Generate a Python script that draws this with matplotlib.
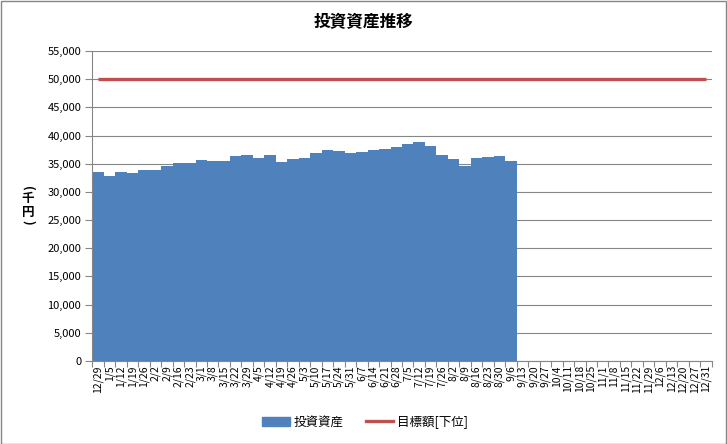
import matplotlib
matplotlib.use("Agg")
import matplotlib.pyplot as plt
from matplotlib.patches import Rectangle
from matplotlib.lines import Line2D
import numpy as np

plt.rcParams['font.family'] = ['Noto Sans CJK JP', 'DejaVu Sans']

dates = ["12/29", "1/5", "1/12", "1/19", "1/26", "2/2", "2/9", "2/16", "2/23",
         "3/1", "3/8", "3/15", "3/22", "3/29", "4/5", "4/12", "4/19", "4/26",
         "5/3", "5/10", "5/17", "5/24", "5/31", "6/7", "6/14", "6/21", "6/28",
         "7/5", "7/12", "7/19", "7/26", "8/2", "8/9", "8/16", "8/23", "8/30",
         "9/6", "9/13", "9/20", "9/27", "10/4", "10/11", "10/18", "10/25",
         "11/1", "11/8", "11/15", "11/22", "11/29", "12/6", "12/13", "12/20",
         "12/27", "12/31"]
assets = [33450, 32910, 33450, 33270, 33800, 33800, 34520, 35050, 35050,
          35590, 35410, 35410, 36300, 36480, 35950, 36480, 35230, 35770,
          35950, 36840, 37380, 37200, 36840, 37020, 37380, 37550, 37910,
          38450, 38800, 38090, 36480, 35770, 34520, 35950, 36130, 36300,
          35410]
target = [50000] * len(dates)

W, H = 727, 444
fig = plt.figure(figsize=(W / 100, H / 100), dpi=100)
fig.patch.set_facecolor("white")
fig.patches.append(Rectangle((0.5 / W, 0.5 / H), 1 - 1.5 / W, 1 - 1.5 / H,
                             transform=fig.transFigure, fill=False,
                             edgecolor="#868686", linewidth=1.0))

ax = fig.add_axes([92.3 / W, 1 - 361 / H, (711.7 - 92.3) / W, (361 - 51) / H])
x = np.arange(len(dates))
ax.bar(x[:len(assets)], assets, width=1.0, color="#4F81BD", linewidth=0,
       zorder=2, label="投資資産")
ax.plot(x, target, color="#C0504D", linewidth=2.4, zorder=3,
        solid_capstyle="butt", label="目標額[下位]")

ax.set_xlim(-0.5, len(dates) - 0.5)
ax.set_ylim(0, 55000)
ax.set_yticks(np.arange(0, 55001, 5000))
ax.set_yticklabels([f"{v:,}" for v in range(0, 55001, 5000)], fontsize=8)
ax.set_xticks(x)
ax.set_xticklabels(dates, rotation=90, fontsize=7.5, va="top")
ax.set_xticks(np.arange(-0.5, len(dates), 1.0), minor=True)
ax.tick_params(axis="x", which="major", length=0, pad=3)
ax.tick_params(axis="x", which="minor", length=4, color="#868686", width=0.8)
ax.tick_params(axis="y", length=5, color="#868686", width=0.8, pad=3)
ax.grid(axis="y", color="#868686", linewidth=0.8, zorder=0)
ax.set_axisbelow(True)
for s in ["top", "right"]:
    ax.spines[s].set_visible(False)
for s in ["left", "bottom"]:
    ax.spines[s].set_color("#868686")
    ax.spines[s].set_linewidth(0.8)

fig.text(363 / W, 1 - 22 / H, "投資資産推移", ha="center", va="center",
         fontsize=12, fontweight="bold")
# vertical y-axis label (千円)
ylab_chars = ["(", "千", "円", ")"]
ylab_rot = [-90, 0, 0, -90]
ylab_y = [188, 198, 212, 222]
for ch, rot, yy in zip(ylab_chars, ylab_rot, ylab_y):
    fig.text(28 / W, 1 - yy / H, ch, ha="center", va="center", rotation=rot,
             fontsize=9, fontweight="bold")

handles = [Rectangle((0, 0), 1, 1, color="#4F81BD"),
           Line2D([0], [0], color="#C0504D", linewidth=2.4)]
fig.legend(handles, ["投資資産", "目標額[下位]"], loc="center",
           bbox_to_anchor=(365 / W, 1 - 422 / H), ncol=2, frameon=False,
           fontsize=9, handlelength=2.2, handletextpad=0.3, columnspacing=1.8)

fig.savefig("out.png", dpi=100)
